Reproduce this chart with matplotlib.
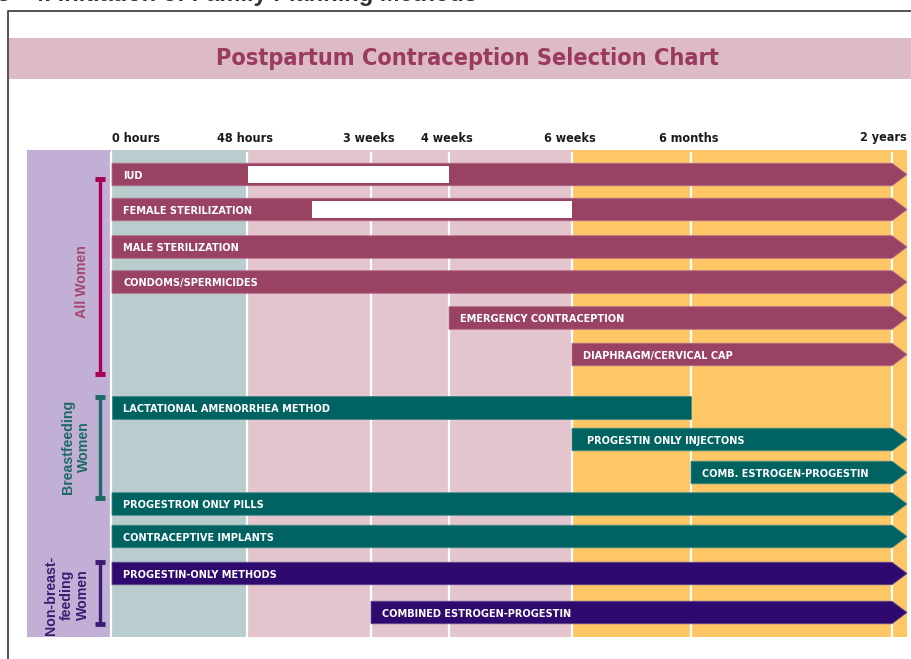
import numpy as np
import matplotlib
matplotlib.use("Agg")
import matplotlib.pyplot as plt
from matplotlib import font_manager
from matplotlib.patches import Rectangle, Polygon

# ------------------------------------------------------------
# data
# ------------------------------------------------------------
time_ticks = ["0 hours", "48 hours", "3 weeks", "4 weeks", "6 weeks", "6 months", "2 years"]

methods = [
    "IUD", "FEMALE STERILIZATION", "MALE STERILIZATION", "CONDOMS/SPERMICIDES",
    "EMERGENCY CONTRACEPTION", "DIAPHRAGM/CERVICAL CAP",
    "LACTATIONAL AMENORRHEA METHOD", "PROGESTIN ONLY INJECTONS", "COMB. ESTROGEN-PROGESTIN",
    "PROGESTRON ONLY PILLS", "CONTRACEPTIVE IMPLANTS",
    "PROGESTIN-ONLY METHODS", "COMBINED ESTROGEN-PROGESTIN",
]
groups = ["All Women"] * 6 + ["Breastfeeding Women"] * 5 + ["Non-breast-feeding Women"] * 2
start = ["0 hours", "0 hours", "0 hours", "0 hours", "4 weeks", "6 weeks",
         "0 hours", "6 weeks", "6 months", "0 hours", "0 hours",
         "0 hours", "3 weeks"]
end = ["2 years"] * 6 + ["6 months"] + ["2 years"] * 6
continues = [True] * 6 + [False] + [True] * 6
# periods not recommended (white gaps), in tick-index units (~7 days sits at 1.52)
gaps = {"IUD": (1.0, 3.0), "FEMALE STERILIZATION": (1.52, 4.0)}

# ------------------------------------------------------------
# layout (pixels)
# ------------------------------------------------------------
tick_px = [112, 247, 371, 449, 572, 691, 892]
tip_px = 907
row_y = [174.5, 209.5, 247, 282, 318, 354.5, 407.5, 439.5, 472.5, 504, 536.5, 573.5, 612.5]
bar_h = 22.5
col_top, col_bot = 150, 637

group_style = {
    "All Women": dict(color="#9A4264", edge="#B06A86", bracket="#A3004F", text="#A5476E",
                      label="All Women", span=(179, 374), lx=82, ly=282),
    "Breastfeeding Women": dict(color="#006361", edge="#3C8A86", bracket="#1D6A66", text="#1D6A66",
                                label="Breastfeeding\nWomen", span=(397, 498), lx=76, ly=447),
    "Non-breast-feeding Women": dict(color="#2E0A6E", edge="#5E4A8E", bracket="#3A1C72", text="#3A1C72",
                                     label="Non-breast-\nfeeding\nWomen", span=(562, 624), lx=67, ly=595),
}

names = {f.name for f in font_manager.fontManager.ttflist}
narrow = "Liberation Sans Narrow" if "Liberation Sans Narrow" in names else "DejaVu Sans"
stretch = "normal" if narrow == "Liberation Sans Narrow" else "condensed"


def xpos(v):
    if isinstance(v, str):
        v = time_ticks.index(v)
    return float(np.interp(v, range(len(tick_px)), tick_px))


fig = plt.figure(figsize=(9.11, 6.59), dpi=100)
ax = fig.add_axes([0, 0, 1, 1])
ax.set_xlim(0, 911)
ax.set_ylim(659, 0)
ax.axis("off")

# page header (cut off at the top) and frame
ax.text(-3, 0.5, "8 - 4. Initiation of Family Planning Methods", fontsize=17, fontweight="bold",
        color="#333333", family="Liberation Sans", va="baseline", ha="left")
ax.plot([8, 8, 911], [659, 11, 11], color="#444444", lw=1.3, solid_capstyle="butt")

# title band
ax.add_patch(Rectangle((9, 38), 902, 41, facecolor="#DCBBC6", edgecolor="none"))
ax.text(467, 59, "Postpartum Contraception Selection Chart", fontsize=16.8, fontweight="bold",
        color="#9B3A5F", family=narrow, fontstretch=stretch, ha="center", va="center")

# background columns
ax.add_patch(Rectangle((27, col_top), 84, col_bot - col_top, facecolor="#C2AFD5", edgecolor="none"))
bands = [(0, 1, "#B9CCCE"), (1, 4, "#E4C5CE"), (4, None, "#FEC664")]
for a, b, c in bands:
    x0 = xpos(a)
    x1 = tip_px if b is None else xpos(b)
    ax.add_patch(Rectangle((x0, col_top), x1 - x0, col_bot - col_top, facecolor=c, edgecolor="none"))
for x in [111] + tick_px[1:]:
    ax.plot([x, x], [col_top + 3, col_bot], color="white", lw=1.6, zorder=2)

# time labels
for i, t in enumerate(time_ticks):
    ha = "left" if i == 0 else ("right" if i == len(time_ticks) - 1 else "center")
    x = tip_px if i == len(time_ticks) - 1 else xpos(i) - (2 if 0 < i else 0)
    ax.text(x, 138, t, fontsize=9, fontweight="bold", color="#1a1a1a", family=narrow,
            fontstretch=stretch, ha=ha, va="center")

# bars
for m, g, s, e, c, y in zip(methods, groups, start, end, continues, row_y):
    st = group_style[g]
    x0, x1 = xpos(s), xpos(e)
    top, bot = y - bar_h / 2, y + bar_h / 2
    if c:
        pts = [(x0, top), (x1, top), (tip_px, y), (x1, bot), (x0, bot)]
    else:
        pts = [(x0, top), (x1, top), (x1, bot), (x0, bot)]
    ax.add_patch(Polygon(pts, closed=True, facecolor=st["color"], edgecolor=st["edge"],
                         lw=0.6, zorder=3))
    if m in gaps:
        ga, gb = xpos(gaps[m][0]), xpos(gaps[m][1])
        ax.add_patch(Rectangle((ga + 1, top + 2.5), gb - ga - 1, bar_h - 5, facecolor="white",
                               edgecolor="none", zorder=4))
    pad = 15 if m == "PROGESTIN ONLY INJECTONS" else 11
    ax.text(x0 + pad, y + 4.2, m, fontsize=7.8, fontweight="bold", color="white", family=narrow,
            fontstretch=stretch, ha="left", va="baseline", zorder=5)

# group brackets and labels
for g, st in group_style.items():
    y0, y1 = st["span"]
    ax.plot([100, 100], [y0, y1], color=st["bracket"], lw=2.4, solid_capstyle="butt")
    for yy in (y0, y1):
        ax.plot([95, 105], [yy, yy], color=st["bracket"], lw=3.5, solid_capstyle="butt")
    ax.text(st["lx"], st["ly"], st["label"], rotation=90, fontsize=10.2, fontweight="bold",
            color=st["text"], family="Liberation Sans", ha="center", va="center",
            multialignment="center", linespacing=1.15)

fig.savefig("out.png", dpi=100)
